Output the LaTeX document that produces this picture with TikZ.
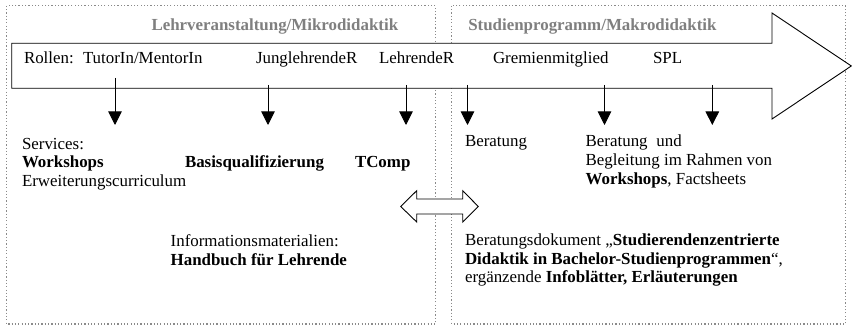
\documentclass[tikz,border=0pt]{standalone}
\usepackage{fontspec}
\setmainfont{Liberation Serif}
\usetikzlibrary{arrows.meta}
\definecolor{bordergray}{HTML}{8A8A8A}
\definecolor{titlegray}{HTML}{7F7F7F}
\tikzset{
  zonebox/.style={draw=bordergray, line width=1.2pt, dash pattern=on 1.2pt off 2.1pt},
  bigarrow/.style={draw=black, fill=white, line width=0.9pt, line join=miter},
  txt/.style={anchor=base west, inner sep=0pt, outer sep=0pt, font=\fontsize{16.9}{19}\selectfont},
  ttl/.style={txt, text=titlegray, font=\fontsize{16.9}{19}\selectfont\bfseries},
  downarrow/.style={draw=black, line width=0.9pt, -{Triangle[width=13.5pt,length=13.5pt]}},
}
\begin{document}
\begin{tikzpicture}[x=1pt,y=-1pt]
\useasboundingbox (0,0) rectangle (852,328);
% zones
\draw[zonebox] (6.5,5.8) rectangle (435.7,324);
\draw[zonebox] (451.7,5.8) rectangle (845.7,324);
% big arrow
\draw[bigarrow] (11.7,43.3) -- (772,43.3) -- (772,13) -- (851.3,66) -- (772,119) -- (772,88.3) -- (11.7,88.3) -- cycle;
% titles
\node[ttl] (t1) at (151.5,31) {Lehrveranstaltung/Mikrodidaktik};
\node[ttl] (t2) at (468.3,31) {Studienprogramm/Makrodidaktik};
% roles
\node[txt] (rollen) at (24,64) {Rollen:};
\node[txt] (r1) at (83,64) {TutorIn/MentorIn};
\node[txt] (r2) at (256,64) {JunglehrendeR};
\node[txt] (r3) at (379,64) {LehrendeR};
\node[txt] (r4) at (493,64) {Gremienmitglied};
\node[txt] (r5) at (653,64) {SPL};
% arrow coordinates
\coordinate (a1s) at (115,78);   \coordinate (a1e) at (115,125);
\coordinate (a2s) at (268,85);   \coordinate (a2e) at (268,125);
\coordinate (a3s) at (406,85);   \coordinate (a3e) at (406,125);
\coordinate (a4s) at (467.5,85); \coordinate (a4e) at (467.5,125);
\coordinate (a5s) at (604.5,85); \coordinate (a5e) at (604.5,125);
\coordinate (a6s) at (712.3,85); \coordinate (a6e) at (712.3,125);
\foreach \i in {1,...,6} {\draw[downarrow] (a\i s) -- (a\i e);}
% services left
\node[txt] (serv) at (22,149.5) {Services:};
\node[txt] (ws) at (22,168) {\textbf{Workshops}};
\node[txt] (bq) at (185,168) {\textbf{Basisqualifizierung}};
\node[txt] (tc) at (355,168) {\textbf{TComp}};
\node[txt] (ec) at (22,186.5) {Erweiterungscurriculum};
% services right
\node[txt] (ber1) at (465,147) {Beratung};
\node[txt] (ber2) at (585.7,147) {Beratung\hspace{4.5pt} und};
\node[txt] (beg) at (585.7,166) {Begleitung im Rahmen von};
\node[txt] (wf) at (585.7,185) {\textbf{Workshops}, Factsheets};
% double arrow
\draw[bigarrow] (400.7,206.5) -- (416.7,190.7) -- (416.7,199) -- (462.7,199) -- (462.7,190.7) -- (478.3,206.5) -- (462.7,222) -- (462.7,214) -- (416.7,214) -- (416.7,222) -- cycle;
% materials left
\node[txt] (im) at (170.7,246.5) {Informationsmaterialien:};
\node[txt] (hb) at (170.7,265.5) {\textbf{Handbuch für Lehrende}};
% materials right
\node[txt] (bd1) at (465,246) {Beratungsdokument „\textbf{Studierendenzentrierte}};
\node[txt] (bd2) at (465,264.5) {\textbf{Didaktik in Bachelor-Studienprogrammen}“,};
\node[txt] (bd3) at (465,283) {ergänzende \textbf{Infoblätter, Erläuterungen}};
\end{tikzpicture}
\end{document}
